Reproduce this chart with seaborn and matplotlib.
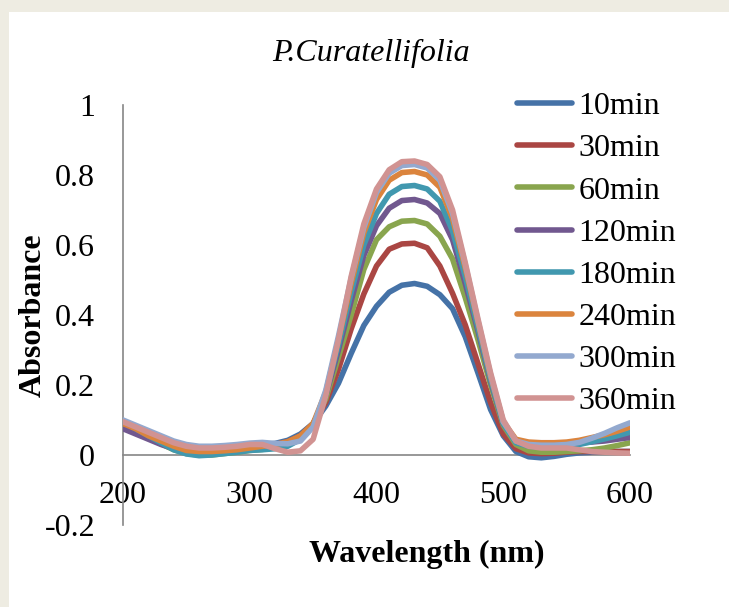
import matplotlib
matplotlib.use("Agg")
import matplotlib.pyplot as plt
import seaborn as sns
import pandas as pd
from matplotlib.patches import Rectangle

wavelength = [200, 210, 220, 230, 240, 250, 260, 270, 280, 290,
              300, 310, 320, 330, 340, 350, 360, 370, 380, 390,
              400, 410, 420, 430, 440, 450, 460, 470, 480, 490,
              500, 510, 520, 530, 540, 550, 560, 570, 580, 590, 600]

abs_10min = [.085, .070, .055, .040, .028, .020, .016, .016, .018, .022,
             .028, .030, .033, .042, .060, .090, .140, .205, .290, .370,
             .425, .465, .485, .490, .482, .458, .418, .338, .235, .130,
             .055, .010, -.005, -.008, -.004, .002, .006, .008, .010, .010, .010]
abs_30min = [.080, .065, .050, .036, .024, .015, .012, .012, .014, .018,
             .024, .027, .030, .038, .055, .090, .150, .245, .360, .460,
             .540, .588, .603, .605, .592, .540, .462, .372, .262, .150,
             .060, .018, .006, .004, .005, .008, .010, .010, .010, .010, .010]
abs_60min = [.085, .068, .050, .032, .015, .004, .000, .000, .004, .008,
             .013, .016, .020, .028, .048, .090, .160, .280, .400, .530,
             .615, .652, .668, .670, .660, .625, .560, .450, .330, .200,
             .085, .030, .012, .008, .008, .010, .012, .015, .020, .027, .035]
abs_120min = [.075, .060, .045, .030, .018, .010, .008, .008, .010, .014,
              .020, .024, .028, .036, .053, .085, .170, .300, .440, .570,
              .655, .705, .727, .730, .720, .690, .615, .490, .355, .210,
              .090, .040, .035, .035, .035, .035, .035, .037, .040, .045, .050]
abs_180min = [.095, .075, .055, .035, .015, .003, -.002, .000, .004, .008,
              .013, .015, .018, .025, .045, .085, .175, .315, .465, .600,
              .690, .745, .767, .770, .760, .725, .640, .510, .365, .215,
              .090, .035, .025, .022, .022, .025, .030, .038, .046, .055, .065]
abs_240min = [.090, .075, .055, .040, .025, .013, .010, .010, .012, .015,
              .020, .025, .030, .038, .055, .090, .180, .330, .490, .635,
              .730, .785, .807, .810, .800, .765, .675, .535, .380, .225,
              .095, .045, .037, .035, .035, .037, .042, .050, .058, .068, .080]
abs_300min = [.100, .085, .070, .055, .040, .030, .025, .025, .027, .030,
              .034, .036, .033, .032, .040, .080, .185, .340, .505, .650,
              .750, .805, .827, .830, .820, .785, .690, .545, .385, .230,
              .095, .040, .030, .028, .028, .030, .036, .048, .062, .078, .092]
abs_360min = [.095, .080, .065, .050, .035, .025, .020, .020, .022, .025,
              .030, .030, .018, .008, .012, .045, .170, .330, .510, .660,
              .760, .815, .838, .840, .830, .795, .700, .550, .390, .235,
              .100, .040, .025, .020, .020, .020, .015, .010, .008, .006, .005]

series_names = ["10min", "30min", "60min", "120min", "180min", "240min", "300min", "360min"]
series_values = [abs_10min, abs_30min, abs_60min, abs_120min,
                 abs_180min, abs_240min, abs_300min, abs_360min]
colors = ["#4572A7", "#AA4643", "#89A54E", "#71588F",
          "#4198AF", "#DB843D", "#93A9CF", "#D19392"]

xticks = [200, 300, 400, 500, 600]
yticks = [-0.2, 0, 0.2, 0.4, 0.6, 0.8, 1]
ytick_labels = ["-0.2", "0", "0.2", "0.4", "0.6", "0.8", "1"]

title = "P.Curatellifolia"
xlabel = "Wavelength (nm)"
ylabel = "Absorbance"

rows = []
for name, vals in zip(series_names, series_values):
    for w, v in zip(wavelength, vals):
        rows.append({"Wavelength": w, "Absorbance": v, "Time": name})
df = pd.DataFrame(rows)

sns.set_theme(style="white")
plt.rcParams["font.family"] = ["Liberation Serif", "DejaVu Serif"]
plt.rcParams["axes.unicode_minus"] = False
plt.rcParams["text.color"] = "black"
plt.rcParams["axes.labelcolor"] = "black"

fig = plt.figure(figsize=(7.29, 6.07), dpi=100)
fig.patch.set_facecolor("white")
fig.patches.append(Rectangle((0, 0), 9 / 729, 1, transform=fig.transFigure,
                             facecolor="#EEECE2", edgecolor="none", zorder=0))
fig.patches.append(Rectangle((0, 1 - 12 / 607), 1, 12 / 607, transform=fig.transFigure,
                             facecolor="#EEECE2", edgecolor="none", zorder=0))

ax = fig.add_axes([123 / 729, 82 / 607, 507 / 729, 420 / 607])
ax.set_facecolor("none")

sns.lineplot(data=df, x="Wavelength", y="Absorbance", hue="Time",
             hue_order=series_names, palette=colors, linewidth=4.0,
             ax=ax, zorder=3, solid_capstyle="round", solid_joinstyle="round")

ax.set_xlim(200, 600)
ax.set_ylim(-0.2, 1)
ax.set_xticks(xticks)
ax.set_xticklabels([str(t) for t in xticks])
ax.set_yticks(yticks)
ax.set_yticklabels(ytick_labels)

for s in ["top", "right"]:
    ax.spines[s].set_visible(False)
ax.spines["bottom"].set_position(("data", 0))
for s in ["left", "bottom"]:
    ax.spines[s].set_color("#868686")
    ax.spines[s].set_linewidth(1.2)
    ax.spines[s].set_zorder(1)

ax.tick_params(axis="x", length=0, pad=19, labelsize=23, colors="black")
ax.tick_params(axis="y", length=0, pad=20, labelsize=23, colors="black")

ax.set_xlabel(xlabel, fontsize=23, fontweight="bold", color="black")
ax.set_ylabel(ylabel, fontsize=23, fontweight="bold", color="black")
ax.xaxis.set_label_coords(0.6, -0.036)
ax.yaxis.set_label_coords(-0.148, 0.5)

ax.text(0.489, 1.122, title, transform=ax.transAxes, ha="center", va="center",
        fontsize=23, fontstyle="italic", color="black")

handles, labels = ax.get_legend_handles_labels()
leg = ax.legend(handles, labels, loc="upper left", bbox_to_anchor=(0.777, 1.031),
                frameon=False, fontsize=23, handlelength=1.72, handletextpad=0.2,
                labelspacing=0.40, borderpad=0, borderaxespad=0)
for line in leg.get_lines():
    line.set_linewidth(4.0)
for t in leg.get_texts():
    t.set_color("black")

fig.savefig("out.png", dpi=100)
